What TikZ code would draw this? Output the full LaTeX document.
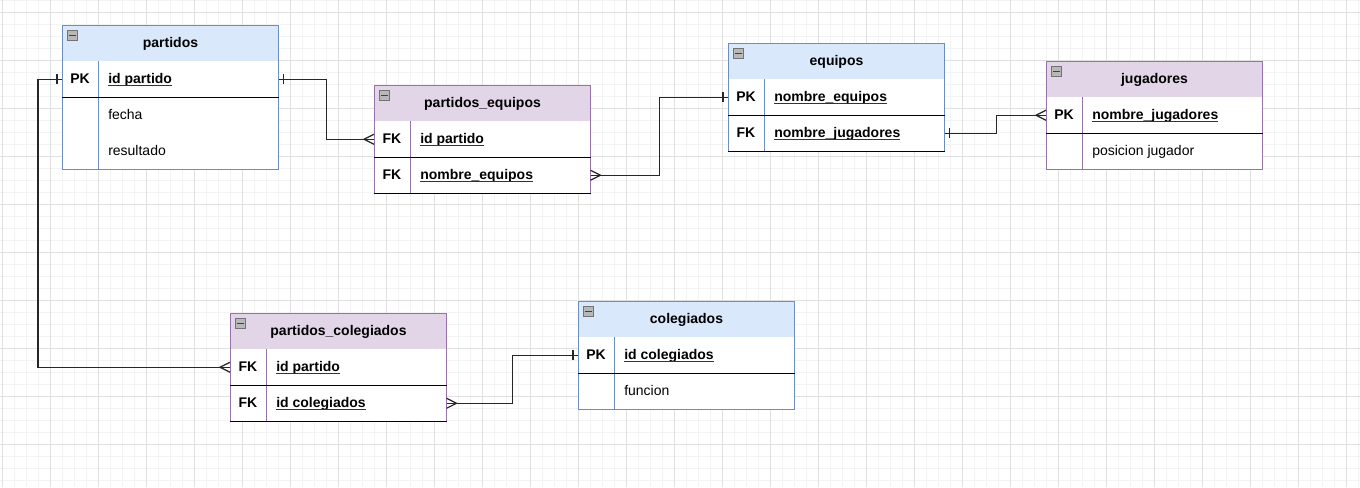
\documentclass[tikz,border=0pt]{standalone}
\usepackage{fontspec}
\setmainfont{Liberation Sans}
\definecolor{bluefill}{HTML}{DAE8FC}
\definecolor{bluebd}{HTML}{6C8EBF}
\definecolor{purfill}{HTML}{E1D5E7}
\definecolor{purbd}{HTML}{9673A6}
\definecolor{gridmaj}{HTML}{E0E0E0}
\definecolor{gridmin}{HTML}{F3F3F3}
\newsavebox\kbox
\newcommand\keyul[1]{\sbox\kbox{#1}\rlap{\usebox\kbox}{\color{black!80}\rule[-2.1pt]{\wd\kbox}{0.75pt}}}
\tikzset{
 bluetab/.style={draw=bluebd,fill=bluefill},
 purtab/.style={draw=purbd,fill=purfill},
 hdr/.style={anchor=north west,minimum width=162pt,minimum height=27pt,inner sep=0pt,line width=0.75pt,font=\fontsize{10.5pt}{12pt}\selectfont\bfseries,text height=7.5pt,text depth=1.9pt},
 rowbox/.style={anchor=north west,minimum width=162pt,minimum height=27pt,inner sep=0pt,fill=white},
 keytxt/.style={inner sep=0pt,font=\fontsize{10.5pt}{12pt}\selectfont\bfseries,text height=7.5pt,text depth=1.1pt},
 fldtxt/.style={anchor=west,inner sep=0pt,font=\fontsize{10.5pt}{12pt}\selectfont,text height=7.5pt,text depth=1.1pt},
 icon/.style={anchor=north west,minimum size=7.5pt,inner sep=0pt,draw=black!55,fill=black!28,line width=0.5pt},
 conn/.style={draw=black!85,line width=0.9pt},
 sep/.style={draw=black,line width=0.9pt},
 gmin/.style={draw=gridmin,line width=0.75pt},
 gmaj/.style={draw=gridmaj,line width=0.75pt},
}
\newcommand\erhead[5]{%
 \node[hdr,#4] (#1) at (#2,#3) {#5};
 \node[icon] (#1-icon) at ([xshift=3.75pt,yshift=-3.75pt]#1.north west) {};
 \draw[black!75,line width=0.6pt] ([xshift=1.5pt]#1-icon.west) -- ([xshift=-1.5pt]#1-icon.east);
}
\newcommand\errow[5]{%
 \node[rowbox] (#1) at (#2,#3) {};
 \node[keytxt] (#1-k) at ([xshift=13.5pt]#1.west) {#4};
 \node[fldtxt] (#1-f) at ([xshift=34.5pt]#1.west) {#5};
}
\newcommand\erframe[4]{%
 \draw[draw=#4,line width=0.75pt] (#1.north west) rectangle (#2.south east);
 \draw[draw=#4,line width=0.75pt] ([xshift=27pt]#3.north west) -- ([xshift=27pt]#2.south west);
}
\begin{document}
\begin{tikzpicture}[x=0.75pt,y=-0.75pt]
\useasboundingbox (0,0) rectangle (1360,487);
\fill[white] (0,0) rectangle (1360,487);
% grid
\foreach \x in {2,14,...,1358} \draw[gmin] (\x,0) -- (\x,487);
\foreach \y in {0,12,...,486} \draw[gmin] (0,\y) -- (1360,\y);
\foreach \x in {2,50,...,1358} \draw[gmaj] (\x,0) -- (\x,487);
\foreach \y in {12,60,...,486} \draw[gmaj] (0,\y) -- (1360,\y);

% partidos
\erhead{p}{62}{25}{bluetab}{partidos}
\errow{p-pk}{62}{61}{PK}{\bfseries\keyul{id partido}}
\errow{p-fe}{62}{97}{}{fecha}
\errow{p-re}{62}{133}{}{resultado}
\erframe{p}{p-re}{p-pk}{bluebd}
\draw[sep] (p-pk.south west) -- (p-pk.south east);

% partidos_equipos
\erhead{pe}{374}{85}{purtab}{partidos\_equipos}
\errow{pe-r1}{374}{121}{FK}{\bfseries\keyul{id partido}}
\errow{pe-r2}{374}{157}{FK}{\bfseries\keyul{nombre\_equipos}}
\erframe{pe}{pe-r2}{pe-r1}{purbd}
\draw[sep] (pe-r1.south west) -- (pe-r1.south east);
\draw[sep] (pe-r2.south west) -- (pe-r2.south east);

% equipos
\erhead{eq}{728}{43}{bluetab}{equipos}
\errow{eq-r1}{728}{79}{PK}{\bfseries\keyul{nombre\_equipos}}
\errow{eq-r2}{728}{115}{FK}{\bfseries\keyul{nombre\_jugadores}}
\erframe{eq}{eq-r2}{eq-r1}{bluebd}
\draw[sep] (eq-r1.south west) -- (eq-r1.south east);
\draw[sep] (eq-r2.south west) -- (eq-r2.south east);

% jugadores
\erhead{ju}{1046}{61}{purtab}{jugadores}
\errow{ju-r1}{1046}{97}{PK}{\bfseries\keyul{nombre\_jugadores}}
\errow{ju-r2}{1046}{133}{}{posicion jugador}
\erframe{ju}{ju-r2}{ju-r1}{purbd}
\draw[sep] (ju-r1.south west) -- (ju-r1.south east);

% partidos_colegiados
\erhead{pc}{230}{313}{purtab}{partidos\_colegiados}
\errow{pc-r1}{230}{349}{FK}{\bfseries\keyul{id partido}}
\errow{pc-r2}{230}{385}{FK}{\bfseries\keyul{id colegiados}}
\erframe{pc}{pc-r2}{pc-r1}{purbd}
\draw[sep] (pc-r1.south west) -- (pc-r1.south east);
\draw[sep] (pc-r2.south west) -- (pc-r2.south east);

% colegiados
\erhead{co}{578}{301}{bluetab}{colegiados}
\errow{co-r1}{578}{337}{PK}{\bfseries\keyul{id colegiados}}
\errow{co-r2}{578}{373}{}{funcion}
\erframe{co}{co-r2}{co-r1}{bluebd}
\draw[sep] (co-r1.south west) -- (co-r1.south east);

% connectors
% partidos -> partidos_equipos
\draw[conn] (p-pk.east) -- ++(48,0) |- (pe-r1.west);
\draw[conn] (p-pk.east) ++(5,-5) -- ++(0,10);
\draw[conn] (pe-r1.west) ++(0,-5) -- ++(-10,5) -- ++(10,5);
% partidos_equipos -> equipos
\draw[conn] (pe-r2.east) -- ++(69,0) |- (eq-r1.west);
\draw[conn] (pe-r2.east) ++(0,-5) -- ++(10,5) -- ++(-10,5);
\draw[conn] (eq-r1.west) ++(-5,-5) -- ++(0,10);
% equipos -> jugadores
\draw[conn] (eq-r2.east) -- ++(52,0) |- (ju-r1.west);
\draw[conn] (eq-r2.east) ++(5,-5) -- ++(0,10);
\draw[conn] (ju-r1.west) ++(0,-5) -- ++(-10,5) -- ++(10,5);
% partidos -> partidos_colegiados
\draw[conn] (p-pk.west) -- ++(-24,0) |- (pc-r1.west);
\draw[conn] (p-pk.west) ++(-5,-5) -- ++(0,10);
\draw[conn] (pc-r1.west) ++(0,-5) -- ++(-10,5) -- ++(10,5);
% partidos_colegiados -> colegiados
\draw[conn] (pc-r2.east) -- ++(66,0) |- (co-r1.west);
\draw[conn] (pc-r2.east) ++(0,-5) -- ++(10,5) -- ++(-10,5);
\draw[conn] (co-r1.west) ++(-5,-5) -- ++(0,10);
\end{tikzpicture}
\end{document}
